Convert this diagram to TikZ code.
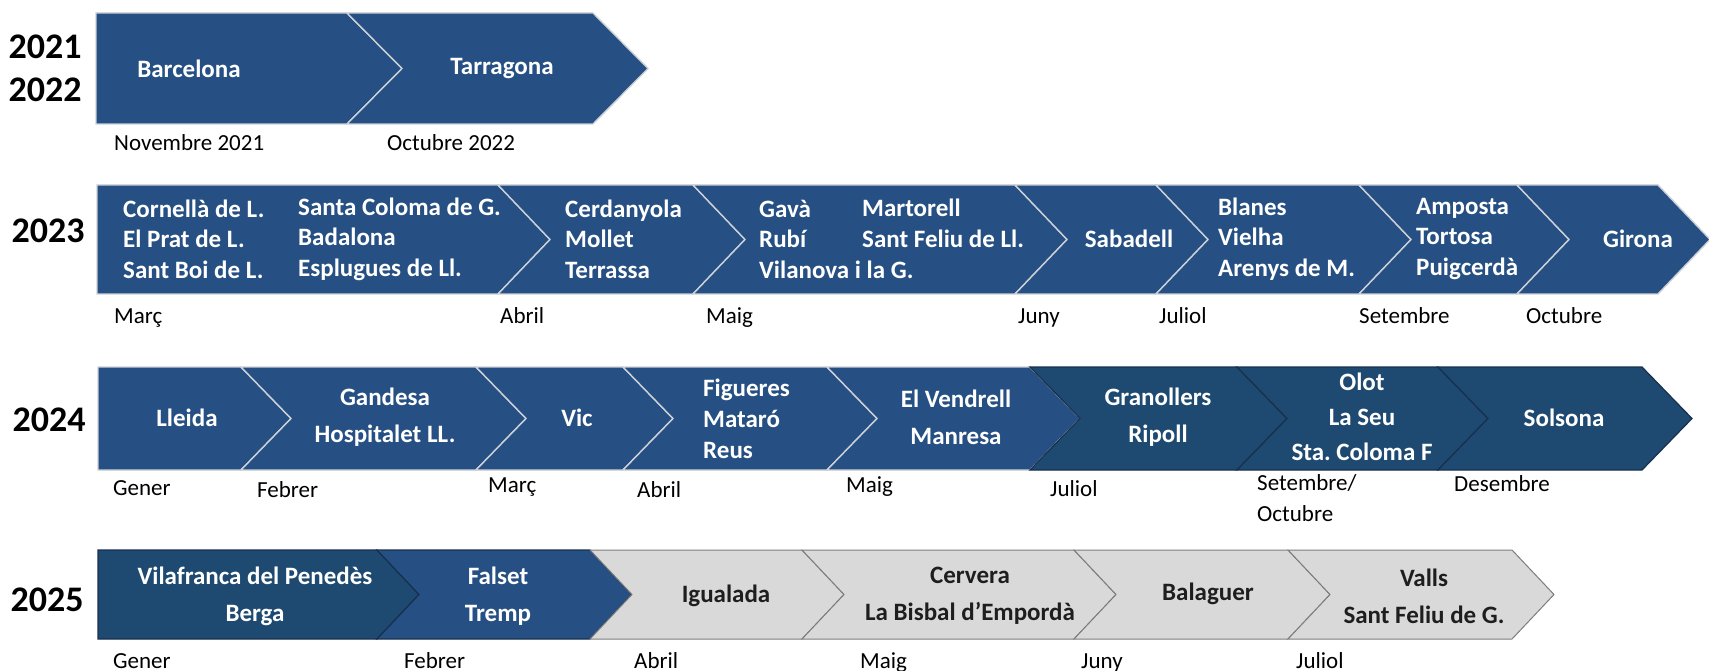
\documentclass[tikz,border=0pt]{standalone}
\usepackage{fontspec}
\setmainfont{Carlito}
\usepackage{tikz}

\definecolor{segblue}{RGB}{38,80,131}
\definecolor{segdark}{RGB}{30,74,113}
\definecolor{seggray}{RGB}{217,217,217}
\definecolor{segedge}{RGB}{205,208,214}
\definecolor{darkedge}{RGB}{24,48,78}
\definecolor{grayedge}{RGB}{125,125,125}
\definecolor{graytext}{RGB}{30,30,30}

% one piece of a band: style, left x, right x, top, bottom, tip depth, notch depth
\newcommand{\timeseg}[7]{%
  \filldraw[#1] (#2,#4) -- (#3,#4) -- ({#3+#6},{(#4+#5)/2}) -- (#3,#5) -- (#2,#5) -- ({#2+#7},{(#4+#5)/2}) -- cycle;}

\begin{document}
\begin{tikzpicture}[x=1pt,y=-1pt,
  blueseg/.style={fill=segblue,draw=segedge,line width=1.4pt},
  darkseg/.style={fill=segdark,draw=darkedge,line width=1.2pt},
  grayseg/.style={fill=seggray,draw=grayedge,line width=1pt},
  town/.style={text=white,font=\bfseries\fontsize{25}{30.5}\selectfont,align=left,inner sep=0pt},
  towntwo/.style={town,align=center,font=\bfseries\fontsize{25}{37}\selectfont},
  graytown/.style={towntwo,text=graytext},
  month/.style={font=\fontsize{23}{31}\selectfont,anchor=west,inner sep=0pt,text height=15pt,text depth=4pt},
  year/.style={font=\bfseries\fontsize{36}{43}\selectfont,inner sep=0pt}]
\useasboundingbox (0,0) rectangle (1709,671);

% bands
\foreach \l/\r/\n in {96/347/0, 347/593/55}
  \timeseg{blueseg}{\l}{\r}{13}{124}{55}{\n};
\foreach \l/\r/\n in {97/498/0, 498/693/52, 693/1015/52, 1015/1156/52, 1156/1359/52, 1359/1517/52, 1517/1658/52}
  \timeseg{blueseg}{\l}{\r}{185}{294}{52}{\n};
\foreach \l/\r/\n in {98/241/0, 241/476/50, 476/623/50, 623/827/50, 827/1030/50}
  \timeseg{blueseg}{\l}{\r}{367}{470}{50}{\n};
\foreach \l/\r in {1030/1237, 1237/1438, 1438/1642}
  \timeseg{darkseg}{\l}{\r}{367}{470}{50}{50};
\timeseg{darkseg}{98}{377}{550}{639}{42}{0}; % dark start of 2025
\timeseg{blueseg,draw=darkedge,line width=1.2pt}{377}{590}{550}{639}{42}{42};
\foreach \l/\r in {590/802, 802/1074, 1074/1288, 1288/1512}
  \timeseg{grayseg}{\l}{\r}{550}{639}{42}{42};

% years
\node[year] (y2021) at (45,47) {2021};
\node[year] (y2022) at (45,90) {2022};
\node[year] (y2023) at (48,231) {2023};
\node[year] (y2024) at (49,420) {2024};
\node[year] (y2025) at (47,600) {2025};

% 2021-2022
\node[town] (barcelona) at (189,69) {Barcelona};
\node[town] (tarragona) at (502,69) {Tarragona};
\node[month] (nov21) at (114,145) {Novembre 2021};
\node[month] (oct22) at (387,145) {Octubre 2022};

% 2023
\node[town,anchor=west] (cornella) at (123,239) {Cornellà de L.\\El Prat de L.\\Sant Boi de L.};
\node[town,anchor=west] (stacoloma) at (298,239) {Santa Coloma de G.\\Badalona\\Esplugues de Ll.};
\node[town,anchor=west] (cerdanyola) at (565,239) {Cerdanyola\\Mollet\\Terrassa};
\node[town,anchor=west] (gava) at (759,239) {Gavà\\Rubí\\Vilanova i la G.};
\node[town,anchor=west] (martorell) at (862,223.5) {Martorell\\Sant Feliu de Ll.};
\node[town] (sabadell) at (1129,239) {Sabadell};
\node[town,anchor=west] (blanes) at (1218,239) {Blanes\\Vielha\\Arenys de M.};
\node[town,anchor=west] (amposta) at (1416,239) {Amposta\\Tortosa\\Puigcerdà};
\node[town] (girona) at (1638,239) {Girona};
\node[month] (mar23) at (114,318) {Març};
\node[month] (abr23) at (500,318) {Abril};
\node[month] (mai23) at (706,318) {Maig};
\node[month] (jun23) at (1018,318) {Juny};
\node[month] (jul23) at (1159,318) {Juliol};
\node[month] (set23) at (1359,318) {Setembre};
\node[month] (oct23) at (1526,318) {Octubre};

% 2024
\node[town] (lleida) at (187,418) {Lleida};
\node[towntwo] (gandesa) at (385,417) {Gandesa\\Hospitalet LL.};
\node[town] (vic) at (577,418) {Vic};
\node[town,anchor=west,font=\bfseries\fontsize{25}{31}\selectfont] (figueres) at (703,419) {Figueres\\Mataró\\Reus};
\node[towntwo] (vendrell) at (956,417) {El Vendrell\\Manresa};
\node[towntwo] (granollers) at (1158,417) {Granollers\\Ripoll};
\node[towntwo,font=\bfseries\fontsize{25}{35}\selectfont] (olot) at (1362,417) {Olot\\La Seu\\Sta.\ Coloma F};
\node[town] (solsona) at (1564,418) {Solsona};
\node[month] (gen24) at (113,490) {Gener};
\node[month] (feb24) at (257,492) {Febrer};
\node[month] (mar24) at (488,487) {Març};
\node[month] (abr24) at (637,492) {Abril};
\node[month] (mai24) at (846,487) {Maig};
\node[month] (jul24) at (1050,491) {Juliol};
\node[month,anchor=north west,align=left,text height=,text depth=] (set24) at (1257,474) {Setembre/\\Octubre};
\node[month] (des24) at (1454,486) {Desembre};

% 2025
\node[towntwo] (vilafranca) at (255,596) {Vilafranca del Penedès\\Berga};
\node[towntwo] (falset) at (498,596) {Falset\\Tremp};
\node[graytown] (igualada) at (726,596) {Igualada};
\node[graytown] (cervera) at (970,596) {Cervera\\La Bisbal d’Empordà};
\node[graytown] (balaguer) at (1208,594) {Balaguer};
\node[graytown] (valls) at (1424,596) {Valls\\Sant Feliu de G.};
\node[month] (gen25) at (113,663) {Gener};
\node[month] (feb25) at (404,663) {Febrer};
\node[month] (abr25) at (634,663) {Abril};
\node[month] (mai25) at (860,663) {Maig};
\node[month] (jun25) at (1081,663) {Juny};
\node[month] (jul25) at (1296,663) {Juliol};
\end{tikzpicture}
\end{document}
